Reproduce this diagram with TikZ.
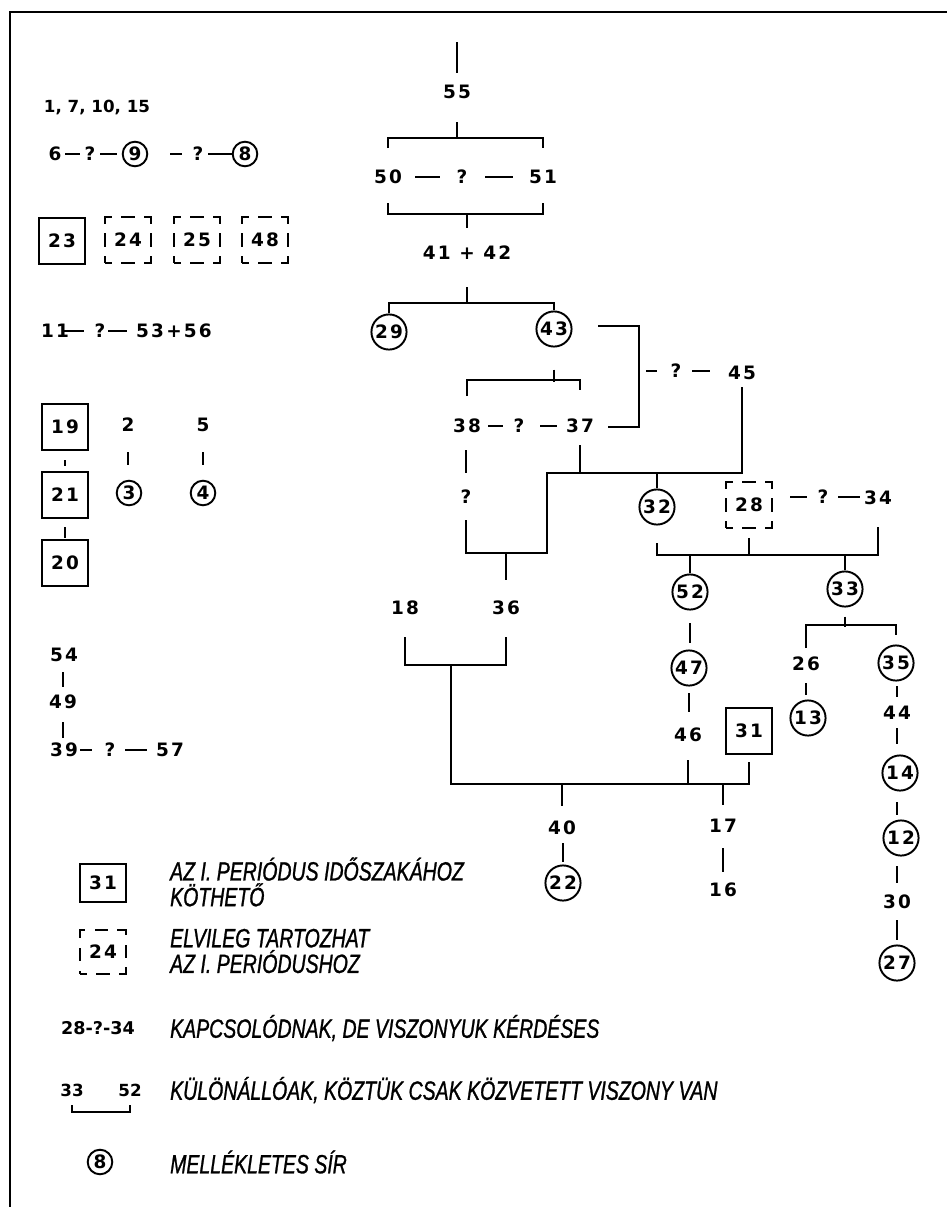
\documentclass[tikz,border=0pt]{standalone}
\usepackage{fontspec}
\setmainfont{DejaVu Sans}
\newfontfamily\numfont[LetterSpace=12]{DejaVu Sans}
\newfontfamily\legfont[FakeStretch=0.74, FakeBold=1]{Liberation Sans}

\begin{document}
\begin{tikzpicture}[
  x=0.02cm, y=-0.02cm,
  line width=1.5pt,
  every node/.style={font=\numfont\bfseries\fontsize{10.5}{12}\selectfont},
  flat/.style={font=\bfseries\fontsize{9.5}{11}\selectfont},
  grave/.style={circle, draw, line width=1.1pt, minimum size=20pt, inner sep=0pt},
  smallgrave/.style={grave, minimum size=14pt},
  sure/.style={draw, line width=1.2pt, minimum width=26pt, minimum height=26pt, inner sep=0pt},
  maybe/.style={sure, dash pattern=on 7.5pt off 5.5pt, dash phase=3.75pt},
  legend/.style={anchor=west, align=left, font=\legfont\itshape\fontsize{15}{14.6}\selectfont}
]
  \useasboundingbox (0,0) rectangle (947,1207);
  % frame
  \draw[line width=1.7pt] (10,1207) -- (10,12) -- (947,12);

  % left column
  \node[flat] (early) at (97,107) {1, 7, 10, 15};
  \node (n6) at (55,154) {6};
  \node (u69) at (90,154) {?};
  \node[smallgrave] (g9) at (135,154) {9};
  \node (u98) at (198,154) {?};
  \node[smallgrave] (g8) at (245,154) {8};
  \draw (65,0 |- n6) -- (80,0 |- n6);
  \draw (100,0 |- n6) -- (117,0 |- n6);
  \draw (170,0 |- g9) -- (182,0 |- g9);
  \draw (208,0 |- g8) -- (g8.west);

  \node[sure] (b23) at (62,241) {23};
  \node[maybe] (b24) at (128,240) {24};
  \node[maybe] (b25) at (197,240) {25};
  \node[maybe] (b48) at (265,240) {48};

  \node (n11) at (55,331) {11};
  \node (u1153) at (100,331) {?};
  \node (n5356) at (174,331) {53+56};
  \draw (64,0 |- n11) -- (84,0 |- n11);
  \draw (108,0 |- n11) -- (127,0 |- n11);

  \node[sure] (b19) at (65,427) {19};
  \node[sure] (b21) at (65,495) {21};
  \node[sure] (b20) at (65,563) {20};
  \draw (b19 |- 0,460) -- (b19 |- 0,466);
  \draw (b21 |- 0,527) -- (b21 |- 0,538);
  \node (n2) at (128,425) {2};
  \node[smallgrave] (g3) at (129,493) {3};
  \node (n5) at (203,425) {5};
  \node[smallgrave] (g4) at (203,493) {4};
  \draw (n2 |- 0,452) -- (n2 |- 0,465);
  \draw (n5 |- 0,452) -- (n5 |- 0,465);

  \node (n54) at (64,655) {54};
  \node (n49) at (63,702) {49};
  \node (n39) at (64,750) {39};
  \node (u3957) at (110,750) {?};
  \node (n57) at (170,750) {57};
  \draw (n49 |- 0,672) -- (n49 |- 0,687);
  \draw (n49 |- 0,722) -- (n49 |- 0,738);
  \draw (80,0 |- n39) -- (92,0 |- n39);
  \draw (125,0 |- n39) -- (147,0 |- n39);

  % main tree
  \node (n55) at (457,92) {55};
  \node (n50) at (388,177) {50};
  \node (u5051) at (462,177) {?};
  \node (n51) at (543,177) {51};
  \node (n4142) at (467,253) {41 + 42};
  \node[grave] (g29) at (389,332) {29};
  \node[grave] (g43) at (554,329) {43};
  \node (u4345) at (676,371) {?};
  \node (n45) at (742,373) {45};
  \node (n38) at (467,426) {38};
  \node (u3837) at (519,426) {?};
  \node (n37) at (580,426) {37};
  \node (u38) at (466,497) {?};
  \node[grave] (g32) at (657,507) {32};
  \node[maybe] (b28) at (749,505) {28};
  \node (u2834) at (823,497) {?};
  \node (n34) at (878,498) {34};
  \node[grave] (g52) at (690,592) {52};
  \node[grave] (g33) at (845,589) {33};
  \node (n18) at (405,608) {18};
  \node (n36) at (506,608) {36};
  \node[grave] (g47) at (689,668) {47};
  \node (n46) at (688,735) {46};
  \node[sure] (b31) at (749,731) {31};
  \node (n26) at (806,664) {26};
  \node[grave] (g13) at (808,718) {13};
  \node[grave] (g35) at (896,663) {35};
  \node (n44) at (897,713) {44};
  \node[grave] (g14) at (900,773) {14};
  \node[grave] (g12) at (901,838) {12};
  \node (n30) at (897,902) {30};
  \node[grave] (g27) at (897,963) {27};
  \node (n40) at (562,828) {40};
  \node[grave] (g22) at (563,883) {22};
  \node (n17) at (723,826) {17};
  \node (n16) at (723,890) {16};

  \draw (n55 |- 0,42) -- (n55 |- 0,73);
  \draw (n55 |- 0,122) -- (n55 |- 0,138);
  \draw (n50 |- 0,148) |- (n51 |- 0,138) -- (n51 |- 0,148);
  \draw (415,0 |- n50) -- (440,0 |- n50);
  \draw (485,0 |- n51) -- (513,0 |- n51);
  \draw (n50 |- 0,203) |- (n51 |- 0,214) -- (n51 |- 0,203);
  \draw (n4142 |- 0,214) -- (n4142 |- 0,228);
  \draw (n4142 |- 0,287) -- (n4142 |- 0,303);
  \draw (g29.north) |- (g43 |- 0,303) -- (g43.north);

  \draw (598,326) -| (639,427) -- (608,427);
  \draw (646,0 |- u4345) -- (657,0 |- u4345);
  \draw (692,0 |- u4345) -- (710,0 |- u4345);
  \draw (g43.south) ++(0,22) -- ++(0,12);
  \draw (n38 |- 0,396) |- (n37 |- 0,380) -- (n37 |- 0,390);
  \draw (488,0 |- n38) -- (503,0 |- n38);
  \draw (540,0 |- n37) -- (557,0 |- n37);
  \draw (u38 |- 0,450) -- (u38 |- 0,473);
  \draw (u38 |- 0,520) |- (547,553) |- (n45 |- 0,473) -- (n45 |- 0,387);
  \draw (n37 |- 0,445) -- (n37 |- 0,473);
  \draw (n36 |- 0,553) -- (n36 |- 0,580);
  \draw (g32 |- 0,473) -- (g32.north);
  \draw (790,0 |- u2834) -- (807,0 |- u2834);
  \draw (838,0 |- u2834) -- (860,0 |- u2834);
  \draw (g32 |- 0,543) |- (n34 |- 0,555) -- (n34 |- 0,527);
  \draw (b28.south) ++(0,9) -- (b28 |- 0,555);
  \draw (g52 |- 0,555) -- (g52.north);
  \draw (g33 |- 0,555) -- (g33.north);

  \draw (g52 |- 0,623) -- (g52 |- 0,643);
  \draw (g47 |- 0,693) -- (g47 |- 0,712);
  \draw (n18 |- 0,637) |- (n36 |- 0,665) -- (n36 |- 0,637);
  \draw (451,665) |- (b31 |- 0,784) -- (b31 |- 0,762);
  \draw (n46 |- 0,760) -- (n46 |- 0,784);
  \draw (n40 |- 0,784) -- (n40 |- 0,806);
  \draw (n17 |- 0,784) -- (n17 |- 0,805);
  \draw (g22 |- 0,843) -- (g22 |- 0,862);
  \draw (n17 |- 0,848) -- (n17 |- 0,872);

  \draw (g33.south) ++(0,9) -- ++(0,10);
  \draw (n26 |- 0,648) |- (g35 |- 0,625) -- (g35 |- 0,635);
  \draw (n26 |- 0,683) -- (n26 |- 0,695);
  \draw (n44 |- 0,686) -- (n44 |- 0,697);
  \draw (n44 |- 0,728) -- (n44 |- 0,744);
  \draw (n44 |- 0,802) -- (n44 |- 0,815);
  \draw (n44 |- 0,866) -- (n44 |- 0,883);
  \draw (n44 |- 0,920) -- (n44 |- 0,940);

  % legend
  \node[sure, minimum height=22pt] (k31) at (103,883) {31};
  \node[legend] (t31) at (163,882) {AZ I. PERIÓDUS IDŐSZAKÁHOZ\\KÖTHETŐ};
  \node[maybe, minimum height=25pt] (k24) at (103,952) {24};
  \node[legend] (t24) at (163,951) {ELVILEG TARTOZHAT\\AZ I. PERIÓDUSHOZ};
  \node[flat, font=\bfseries\fontsize{10}{11}\selectfont] (k2834) at (98,1028) {28-?-34};
  \node[legend] (t2834) at (163,1028) {KAPCSOLÓDNAK, DE VISZONYUK KÉRDÉSES};
  \node[flat] (k33) at (72,1090) {33};
  \node[flat] (k52) at (130,1090) {52};
  \draw[line width=1pt] (k33 |- 0,1105) |- (k52 |- 0,1112) -- (k52 |- 0,1105);
  \node[legend] (t3352) at (163,1090) {KÜLÖNÁLLÓAK, KÖZTÜK CSAK KÖZVETETT VISZONY VAN};
  \node[smallgrave] (k8) at (100,1162) {8};
  \node[legend] (t8) at (163,1162) {MELLÉKLETES SÍR};
\end{tikzpicture}
\end{document}
